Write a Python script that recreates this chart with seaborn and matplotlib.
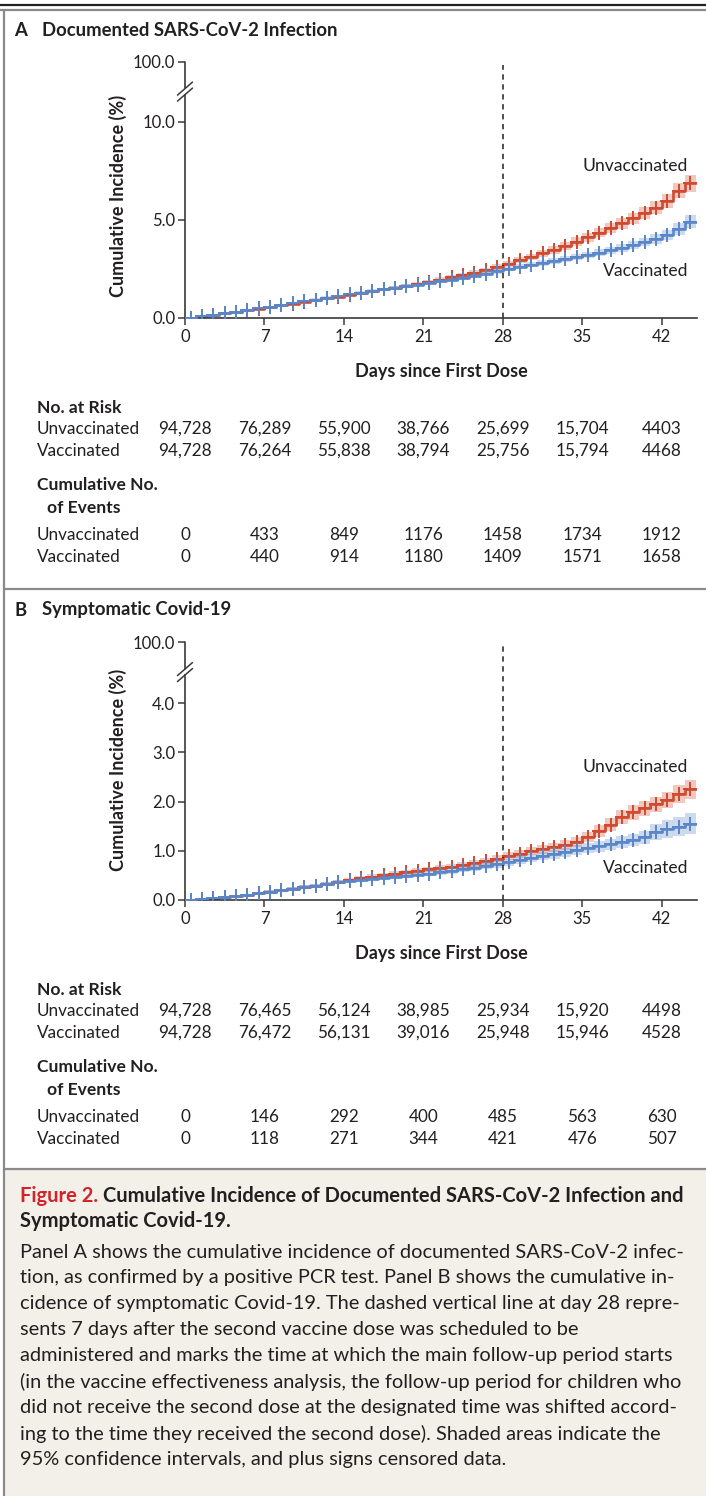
import numpy as np
import pandas as pd
import matplotlib
matplotlib.use("Agg")
import matplotlib.pyplot as plt
import matplotlib.transforms as mtransforms
from matplotlib.lines import Line2D
from matplotlib.patches import Rectangle
import seaborn as sns

W, H = 706, 1496

# ---- data (cumulative incidence, %) ----
days = list(range(45))

inf_unvac = [0.00, 0.08, 0.16, 0.24, 0.32, 0.40, 0.48, 0.56, 0.64, 0.73,
             0.82, 0.91, 1.00, 1.09, 1.18, 1.27, 1.36, 1.46, 1.55, 1.65,
             1.75, 1.85, 1.96, 2.07, 2.19, 2.31, 2.44, 2.60, 2.78, 2.95,
             3.12, 3.30, 3.48, 3.68, 3.90, 4.12, 4.35, 4.58, 4.83, 5.08,
             5.35, 5.62, 5.95, 6.50, 6.87]
inf_vac = [0.00, 0.08, 0.16, 0.24, 0.32, 0.40, 0.49, 0.58, 0.67, 0.76,
           0.85, 0.94, 1.03, 1.12, 1.21, 1.30, 1.38, 1.46, 1.54, 1.62,
           1.70, 1.78, 1.87, 1.96, 2.05, 2.15, 2.25, 2.38, 2.52, 2.62,
           2.72, 2.82, 2.92, 3.02, 3.12, 3.22, 3.33, 3.45, 3.58, 3.72,
           3.87, 4.03, 4.22, 4.55, 4.90]
# half width of the 95% CI band
inf_unvac_ci = [0.00, 0.02, 0.03, 0.03, 0.04, 0.04, 0.05, 0.05, 0.05, 0.06,
                0.06, 0.06, 0.07, 0.07, 0.07, 0.08, 0.08, 0.08, 0.09, 0.09,
                0.10, 0.10, 0.11, 0.11, 0.12, 0.12, 0.13, 0.14, 0.15, 0.16,
                0.17, 0.18, 0.19, 0.20, 0.21, 0.22, 0.24, 0.25, 0.27, 0.29,
                0.31, 0.33, 0.36, 0.40, 0.43]
inf_vac_ci = [0.00, 0.02, 0.03, 0.03, 0.04, 0.04, 0.05, 0.05, 0.05, 0.06,
              0.06, 0.06, 0.07, 0.07, 0.07, 0.08, 0.08, 0.08, 0.09, 0.09,
              0.09, 0.10, 0.10, 0.11, 0.11, 0.12, 0.12, 0.13, 0.13, 0.14,
              0.14, 0.15, 0.15, 0.16, 0.17, 0.17, 0.18, 0.19, 0.20, 0.21,
              0.22, 0.24, 0.26, 0.30, 0.33]

sym_unvac = [0.00, 0.02, 0.04, 0.06, 0.09, 0.11, 0.14, 0.17, 0.20, 0.23,
             0.26, 0.29, 0.33, 0.37, 0.41, 0.44, 0.47, 0.50, 0.53, 0.56,
             0.59, 0.62, 0.65, 0.68, 0.71, 0.75, 0.79, 0.84, 0.89, 0.94,
             0.99, 1.03, 1.07, 1.12, 1.18, 1.28, 1.40, 1.53, 1.68, 1.78,
             1.86, 1.94, 2.03, 2.16, 2.25]
sym_vac = [0.00, 0.02, 0.04, 0.06, 0.09, 0.11, 0.14, 0.17, 0.20, 0.23,
           0.26, 0.29, 0.32, 0.36, 0.39, 0.41, 0.43, 0.45, 0.47, 0.49,
           0.51, 0.53, 0.56, 0.59, 0.62, 0.65, 0.69, 0.73, 0.77, 0.81,
           0.85, 0.89, 0.93, 0.97, 1.01, 1.05, 1.09, 1.13, 1.18, 1.22,
           1.27, 1.38, 1.44, 1.49, 1.55]
sym_unvac_ci = [0.00, 0.01, 0.01, 0.02, 0.02, 0.02, 0.03, 0.03, 0.03, 0.03,
                0.04, 0.04, 0.04, 0.04, 0.04, 0.05, 0.05, 0.05, 0.05, 0.05,
                0.06, 0.06, 0.06, 0.06, 0.06, 0.07, 0.07, 0.07, 0.08, 0.08,
                0.08, 0.09, 0.09, 0.10, 0.10, 0.11, 0.12, 0.13, 0.14, 0.15,
                0.15, 0.16, 0.17, 0.18, 0.19]
sym_vac_ci = [0.00, 0.01, 0.01, 0.02, 0.02, 0.02, 0.03, 0.03, 0.03, 0.03,
              0.04, 0.04, 0.04, 0.04, 0.04, 0.04, 0.05, 0.05, 0.05, 0.05,
              0.05, 0.05, 0.06, 0.06, 0.06, 0.06, 0.07, 0.07, 0.07, 0.08,
              0.08, 0.08, 0.09, 0.09, 0.10, 0.10, 0.11, 0.11, 0.12, 0.13,
              0.14, 0.16, 0.18, 0.20, 0.21]

risk_days = [0, 7, 14, 21, 28, 35, 42]
inf_risk_unvac = ["94,728", "76,289", "55,900", "38,766", "25,699", "15,704", "4403"]
inf_risk_vac = ["94,728", "76,264", "55,838", "38,794", "25,756", "15,794", "4468"]
inf_events_unvac = ["0", "433", "849", "1176", "1458", "1734", "1912"]
inf_events_vac = ["0", "440", "914", "1180", "1409", "1571", "1658"]
sym_risk_unvac = ["94,728", "76,465", "56,124", "38,985", "25,934", "15,920", "4498"]
sym_risk_vac = ["94,728", "76,472", "56,131", "39,016", "25,948", "15,946", "4528"]
sym_events_unvac = ["0", "146", "292", "400", "485", "563", "630"]
sym_events_vac = ["0", "118", "271", "344", "421", "476", "507"]

caption_body = [
    "Panel A shows the cumulative incidence of documented SARS-CoV-2 infec-",
    "tion, as confirmed by a positive PCR test. Panel B shows the cumulative in-",
    "cidence of symptomatic Covid-19. The dashed vertical line at day 28 repre-",
    "sents 7 days after the second vaccine dose was scheduled to be",
    "administered and marks the time at which the main follow-up period starts",
    "(in the vaccine effectiveness analysis, the follow-up period for children who",
    "did not receive the second dose at the designated time was shifted accord-",
    "ing to the time they received the second dose). Shaded areas indicate the",
    "95% confidence intervals, and plus signs censored data.",
]

RED = "#d04a30"
BLUE = "#5a87c9"
INK = "#231f20"
AXC = "#3a3a3a"

sns.set_theme(style="ticks")
plt.rcParams["font.family"] = ["Lato", "DejaVu Sans"]
plt.rcParams["text.color"] = INK

fig = plt.figure(figsize=(W / 100, H / 100), dpi=100)

TICK_FS = 12
LAB_FS = 13
TAB_FS = 12.3
TITLE_FS = 13.3


def fx(px):
    return px / W


def fy(py):
    return 1 - py / H


def draw_panel(ax, unvac, vac, unvac_ci, vac_ci, ytop, ticks, labels, gap):
    x_end = days + [45]
    for vals, ci, color in ((unvac, unvac_ci, RED), (vac, vac_ci, BLUE)):
        v = np.array(vals + [vals[-1]])
        c = np.array(ci + [ci[-1]])
        ax.fill_between(x_end, np.maximum(v - c, 0), v + c, step="post",
                        color=color, alpha=0.3, lw=0)
    for vals, color in ((unvac, RED), (vac, BLUE)):
        line = pd.DataFrame({"day": x_end, "pct": vals + [vals[-1]]})
        sns.lineplot(data=line, x="day", y="pct", drawstyle="steps-post",
                     color=color, lw=1.9, ax=ax)
        marks = pd.DataFrame({"day": np.array(days) + 0.5, "pct": vals})
        sns.scatterplot(data=marks, x="day", y="pct", marker="+", s=95,
                        color=color, linewidth=1.4, ax=ax, zorder=3)

    ax.axvline(28, ymax=0.99, color=INK, ls=(0, (3.5, 3)), lw=1.1)
    ax.set_xlim(0, 45.1)
    ax.set_ylim(0, ytop)
    ax.set_xticks(risk_days)
    ax.set_yticks(ticks)
    ax.set_yticklabels(labels)
    ax.set_xlabel("")
    ax.set_ylabel("")
    ax.tick_params(axis="both", direction="out", length=5, width=1.1,
                   color=AXC, labelsize=TICK_FS, labelcolor=INK)
    ax.tick_params(axis="x", pad=3)
    ax.tick_params(axis="y", pad=2)
    sns.despine(ax=ax)
    for side in ("left", "bottom"):
        ax.spines[side].set_color(AXC)
        ax.spines[side].set_linewidth(1.2)

    # broken y axis
    per_unit = ax.get_position().height * H / ytop
    g0, g1 = gap
    ax.spines["left"].set_bounds(0, g0)
    ytrans = ax.get_yaxis_transform()
    ax.add_line(Line2D([0, 0], [g1, ytop], transform=ytrans, color=AXC,
                       lw=1.2, clip_on=False))
    mid = (g0 + g1) / 2
    dx = 7.5 / (ax.get_position().width * W)
    dy = 6.5 / per_unit
    off = 3.0 / per_unit
    for s in (-off, off):
        ax.add_line(Line2D([-dx, dx], [mid + s - dy, mid + s + dy],
                           transform=ytrans, color=AXC, lw=1.1, clip_on=False))


def draw_table(ax, y0, risk_u, risk_v, ev_u, ev_v):
    tr = mtransforms.blended_transform_factory(ax.transData, fig.transFigure)
    fs = TAB_FS
    fig.text(fx(37), fy(y0), "No. at Risk", fontsize=fs + 0.3, fontweight="bold", va="center")
    fig.text(fx(37), fy(y0 + 77), "Cumulative No.", fontsize=fs + 0.3, fontweight="bold", va="center")
    fig.text(fx(47), fy(y0 + 100), "of Events", fontsize=fs + 0.3, fontweight="bold", va="center")
    rows = [("Unvaccinated", risk_u, y0 + 21), ("Vaccinated", risk_v, y0 + 43),
            ("Unvaccinated", ev_u, y0 + 127), ("Vaccinated", ev_v, y0 + 149)]
    for name, vals, yy in rows:
        fig.text(fx(37), fy(yy), name, fontsize=fs, va="center")
        for d, v in zip(risk_days, vals):
            ax.text(d, fy(yy), v, transform=tr, fontsize=fs, ha="center",
                    va="center", clip_on=False)


# ---- panel A ----
axA = fig.add_axes([fx(185), fy(318), fx(697) - fx(185), fy(62) - fy(318)])
draw_panel(axA, inf_unvac, inf_vac, inf_unvac_ci, inf_vac_ci, 13.06,
           [0, 5, 10, 13.06], ["0.0", "5.0", "10.0", "100.0"], (11.38, 11.72))
fig.text(fx(14), fy(30), "A", fontsize=TITLE_FS, fontweight="bold", va="center")
fig.text(fx(42), fy(30), "Documented SARS-CoV-2 Infection", fontsize=TITLE_FS,
         fontweight="bold", va="center")
fig.text(fx(118), fy(196), "Cumulative Incidence (%)", fontsize=LAB_FS,
         fontweight="bold", rotation=90, ha="center", va="center")
fig.text(fx(441), fy(372), "Days since First Dose", fontsize=LAB_FS,
         fontweight="bold", ha="center", va="center")
fig.text(fx(688), fy(166), "Unvaccinated", fontsize=12.6, ha="right", va="center")
fig.text(fx(688), fy(271), "Vaccinated", fontsize=12.6, ha="right", va="center")
draw_table(axA, 408, inf_risk_unvac, inf_risk_vac, inf_events_unvac, inf_events_vac)

# ---- panel B ----
axB = fig.add_axes([fx(185), fy(900), fx(697) - fx(185), fy(642) - fy(900)])
draw_panel(axB, sym_unvac, sym_vac, sym_unvac_ci, sym_vac_ci, 5.24,
           [0, 1, 2, 3, 4, 5.24], ["0.0", "1.0", "2.0", "3.0", "4.0", "100.0"],
           (4.56, 4.70))
fig.text(fx(14), fy(610), "B", fontsize=TITLE_FS, fontweight="bold", va="center")
fig.text(fx(42), fy(610), "Symptomatic Covid-19", fontsize=TITLE_FS,
         fontweight="bold", va="center")
fig.text(fx(118), fy(770), "Cumulative Incidence (%)", fontsize=LAB_FS,
         fontweight="bold", rotation=90, ha="center", va="center")
fig.text(fx(441), fy(954), "Days since First Dose", fontsize=LAB_FS,
         fontweight="bold", ha="center", va="center")
fig.text(fx(688), fy(767), "Unvaccinated", fontsize=12.6, ha="right", va="center")
fig.text(fx(688), fy(868), "Vaccinated", fontsize=12.6, ha="right", va="center")
draw_table(axB, 990, sym_risk_unvac, sym_risk_vac, sym_events_unvac, sym_events_vac)

# ---- frame and caption box ----
fig.patches.append(Rectangle((fx(3), 0), 1 - fx(3), fy(1169), transform=fig.transFigure,
                             facecolor="#f3f0ea", edgecolor="none", zorder=-5))
frame = [([0, 1], [fy(4.5), fy(4.5)], "#222222", 1.6),
         ([0, 1], [fy(10), fy(10)], "#8a8a8a", 1.6),
         ([fx(3.5), fx(3.5)], [fy(10), 0], "#8a8a8a", 1.6),
         ([fx(3.5), 1], [fy(589), fy(589)], "#8a8a8a", 1.6),
         ([fx(3.5), 1], [fy(1169), fy(1169)], "#8a8a8a", 1.6)]
for xs, ys, col, lw in frame:
    fig.add_artist(Line2D(xs, ys, transform=fig.transFigure, color=col, lw=lw))

cap_fs = 14.5
t1 = fig.text(fx(20), fy(1196), "Figure 2.", fontsize=cap_fs, fontweight="bold",
              color="#d2232a", va="center")
fig.canvas.draw()
bb = t1.get_window_extent(renderer=fig.canvas.get_renderer())
fig.text(bb.x1 / W + fx(5), fy(1196),
         "Cumulative Incidence of Documented SARS-CoV-2 Infection and",
         fontsize=cap_fs, fontweight="bold", va="center")
fig.text(fx(20), fy(1221), "Symptomatic Covid-19.", fontsize=cap_fs,
         fontweight="bold", va="center")
for i, line in enumerate(caption_body):
    fig.text(fx(20), fy(1252 + 26 * i), line, fontsize=14.4, va="center")

fig.savefig("out.png", dpi=100)
